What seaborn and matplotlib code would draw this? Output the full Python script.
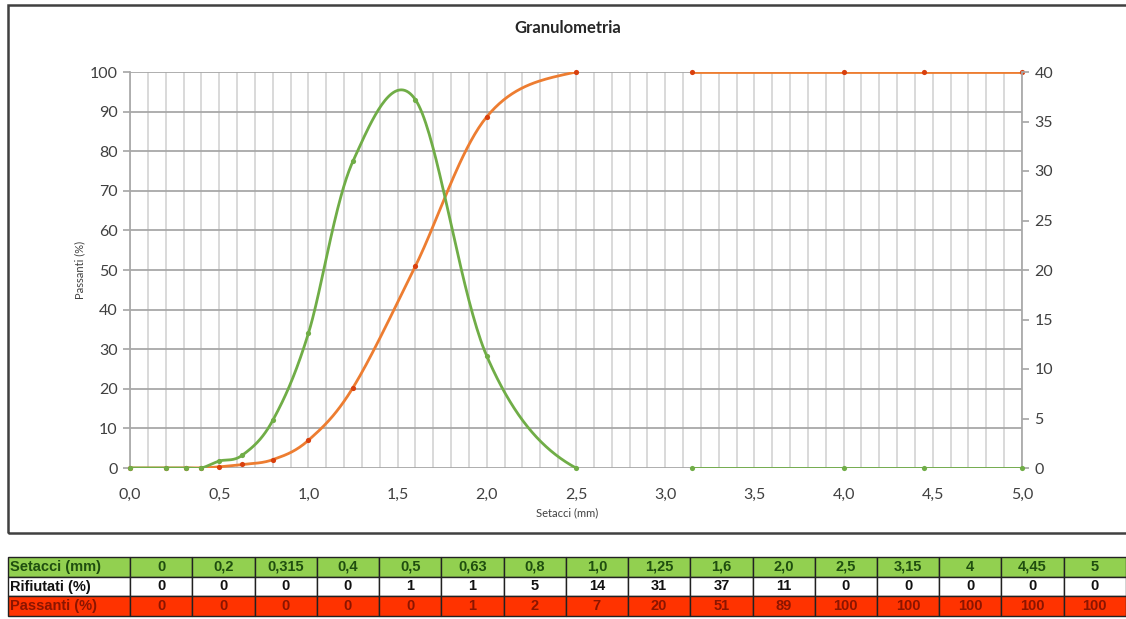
import matplotlib
matplotlib.use("Agg")
import matplotlib.pyplot as plt
import matplotlib.patches as mpatches
from matplotlib.ticker import FuncFormatter, MultipleLocator
import seaborn as sns
import numpy as np
import pandas as pd

# dati della granulometria
setacci = [0, 0.2, 0.315, 0.4, 0.5, 0.63, 0.8, 1.0, 1.25, 1.6, 2.0, 2.5, 3.15, 4, 4.45, 5]
setacci_labels = ["0", "0,2", "0,315", "0,4", "0,5", "0,63", "0,8", "1,0", "1,25",
                  "1,6", "2,0", "2,5", "3,15", "4", "4,45", "5"]
rifiutati = [0, 0, 0, 0, 0.7, 1.3, 4.8, 13.6, 31, 37.2, 11.3, 0, 0, 0, 0, 0]
passanti = [0, 0, 0, 0, 0.3, 0.9, 2.1, 7, 20.3, 51, 88.7, 100, 100, 100, 100, 100]

ORANGE = "#ED7D31"
ORANGE_MK = "#D9400E"
GREEN = "#70AD47"
ROW_GREEN = "#92D050"
ROW_RED = "#FF3300"


def smooth_segments(x, y, n=40, skip=()):
    """Linea smussata stile Excel (bezier), con interruzione dopo i punti in skip."""
    pts = np.column_stack([x, y]).astype(float)
    m = len(pts)
    out = []
    seg = 0
    for i in range(m - 1):
        if i in skip:
            seg += 1
            continue
        p0 = pts[max(i - 1, 0)]
        p1 = pts[i]
        p2 = pts[i + 1]
        p3 = pts[min(i + 2, m - 1)]
        c1 = p1 + (p2 - p0) / 6
        c2 = p2 - (p3 - p1) / 6
        t = np.linspace(0, 1, n)[:, None]
        b = ((1 - t) ** 3) * p1 + 3 * ((1 - t) ** 2) * t * c1 + 3 * (1 - t) * t ** 2 * c2 + t ** 3 * p2
        out.append(pd.DataFrame({"x": b[:, 0], "y": b[:, 1], "seg": seg}))
    return pd.concat(out, ignore_index=True)


sns.set_theme(style="white")
plt.rcParams["font.family"] = ["Lato", "DejaVu Sans"]

W, H = 1126, 619
fig = plt.figure(figsize=(W / 100, H / 100), dpi=100)
fig.patch.set_facecolor("white")

# bordo del grafico
fig.patches.append(mpatches.Rectangle((8 / W, 1 - 533 / H), 1.2, (533 - 5) / H,
                                      transform=fig.transFigure, fill=False,
                                      edgecolor="#404040", linewidth=1.8, zorder=0))

ax = fig.add_axes([130 / W, 1 - 468 / H, (1022 - 130) / W, (468 - 72) / H])
ax2 = ax.twinx()

ax.set_xlim(0, 5)
ax.set_ylim(0, 100)
ax2.set_ylim(0, 40)

ax.xaxis.set_major_locator(MultipleLocator(0.5))
ax.xaxis.set_minor_locator(MultipleLocator(0.1))
ax.yaxis.set_major_locator(MultipleLocator(10))
ax2.yaxis.set_major_locator(MultipleLocator(5))
ax.xaxis.set_major_formatter(FuncFormatter(lambda v, p: f"{v:.1f}".replace(".", ",")))

ax.grid(True, which="major", axis="y", color="#A8A8A8", linewidth=1.3)
ax.grid(True, which="both", axis="x", color="#D0D0D0", linewidth=1.1)
ax.set_axisbelow(True)

for a in (ax, ax2):
    for s in a.spines.values():
        s.set_visible(False)
ax.spines["left"].set_visible(True)
ax.spines["left"].set_color("#A8A8A8")
ax2.spines["right"].set_visible(True)
ax2.spines["right"].set_color("#A8A8A8")

ax.tick_params(axis="y", which="major", left=True, length=5, color="#A8A8A8",
               labelsize=11.5, labelcolor="#404040", pad=4)
ax.tick_params(axis="x", which="both", bottom=False, labelsize=11.5,
               labelcolor="#404040", pad=8)
ax2.tick_params(axis="y", right=True, length=5, color="#A8A8A8",
                labelsize=11.5, labelcolor="#404040", pad=4)

# passanti (asse sinistro)
pas = smooth_segments(setacci, passanti, skip=(11,))
sns.lineplot(data=pas, x="x", y="y", units="seg", ax=ax, color=ORANGE, linewidth=2.0,
             sort=False, estimator=None)
sns.scatterplot(x=setacci, y=passanti, ax=ax, color=ORANGE_MK, s=14, linewidth=0,
                zorder=5, clip_on=False)

# rifiutati (asse destro)
rif = smooth_segments(setacci, rifiutati, skip=(11,))
sns.lineplot(data=rif, x="x", y="y", units="seg", ax=ax2, color=GREEN, linewidth=2.0,
             sort=False, estimator=None)
sns.scatterplot(x=setacci, y=rifiutati, ax=ax2, color=GREEN, s=14, linewidth=0,
                zorder=5, clip_on=False)

ax.set_xlabel("")
ax.set_ylabel("")
ax2.set_ylabel("")

fig.text(568 / W, 1 - 28 / H, "Granulometria", ha="center", va="center",
         fontsize=12, fontweight="bold", color="#262626")
fig.text(80 / W, 1 - 270 / H, "Passanti (%)", ha="center", va="center",
         rotation=90, fontsize=8, color="#404040")
fig.text(567 / W, 1 - 513 / H, "Setacci (mm)", ha="center", va="center",
         fontsize=8, color="#404040")

# tabella sotto il grafico
tab = fig.add_axes([8 / W, 1 - 616 / H, (1126 - 8) / W, (616 - 557) / H])
tab.axis("off")
rows = ["Setacci (mm)", "Rifiutati (%)", "Passanti (%)"]
cell_text = [
    [rows[0]] + setacci_labels,
    [rows[1]] + [f"{v:.0f}" for v in rifiutati],
    [rows[2]] + [f"{v:.0f}" for v in passanti],
]
row_colors = [ROW_GREEN, "white", ROW_RED]
text_colors = ["#1F4E0F", "#111111", "#8B1500"]
cell_colours = [[c] * len(cell_text[0]) for c in row_colors]
first_w = 122 / 1118
col_w = [first_w] + [(1 - first_w) / len(setacci)] * len(setacci)
table = tab.table(cellText=cell_text, cellColours=cell_colours, colWidths=col_w,
                  bbox=[0, 0, 1, 1], cellLoc="center")
table.auto_set_font_size(False)
for (r, c), cell in table.get_celld().items():
    cell.set_edgecolor("#222222")
    cell.set_linewidth(1.0)
    txt = cell.get_text()
    txt.set_fontsize(10.5)
    txt.set_fontweight("bold")
    txt.set_fontfamily(["Liberation Sans", "DejaVu Sans"])
    txt.set_color(text_colors[r])
    if c == 0:
        txt.set_horizontalalignment("left")
        cell.PAD = 0.02

fig.savefig("out.png", dpi=100, facecolor="white")
